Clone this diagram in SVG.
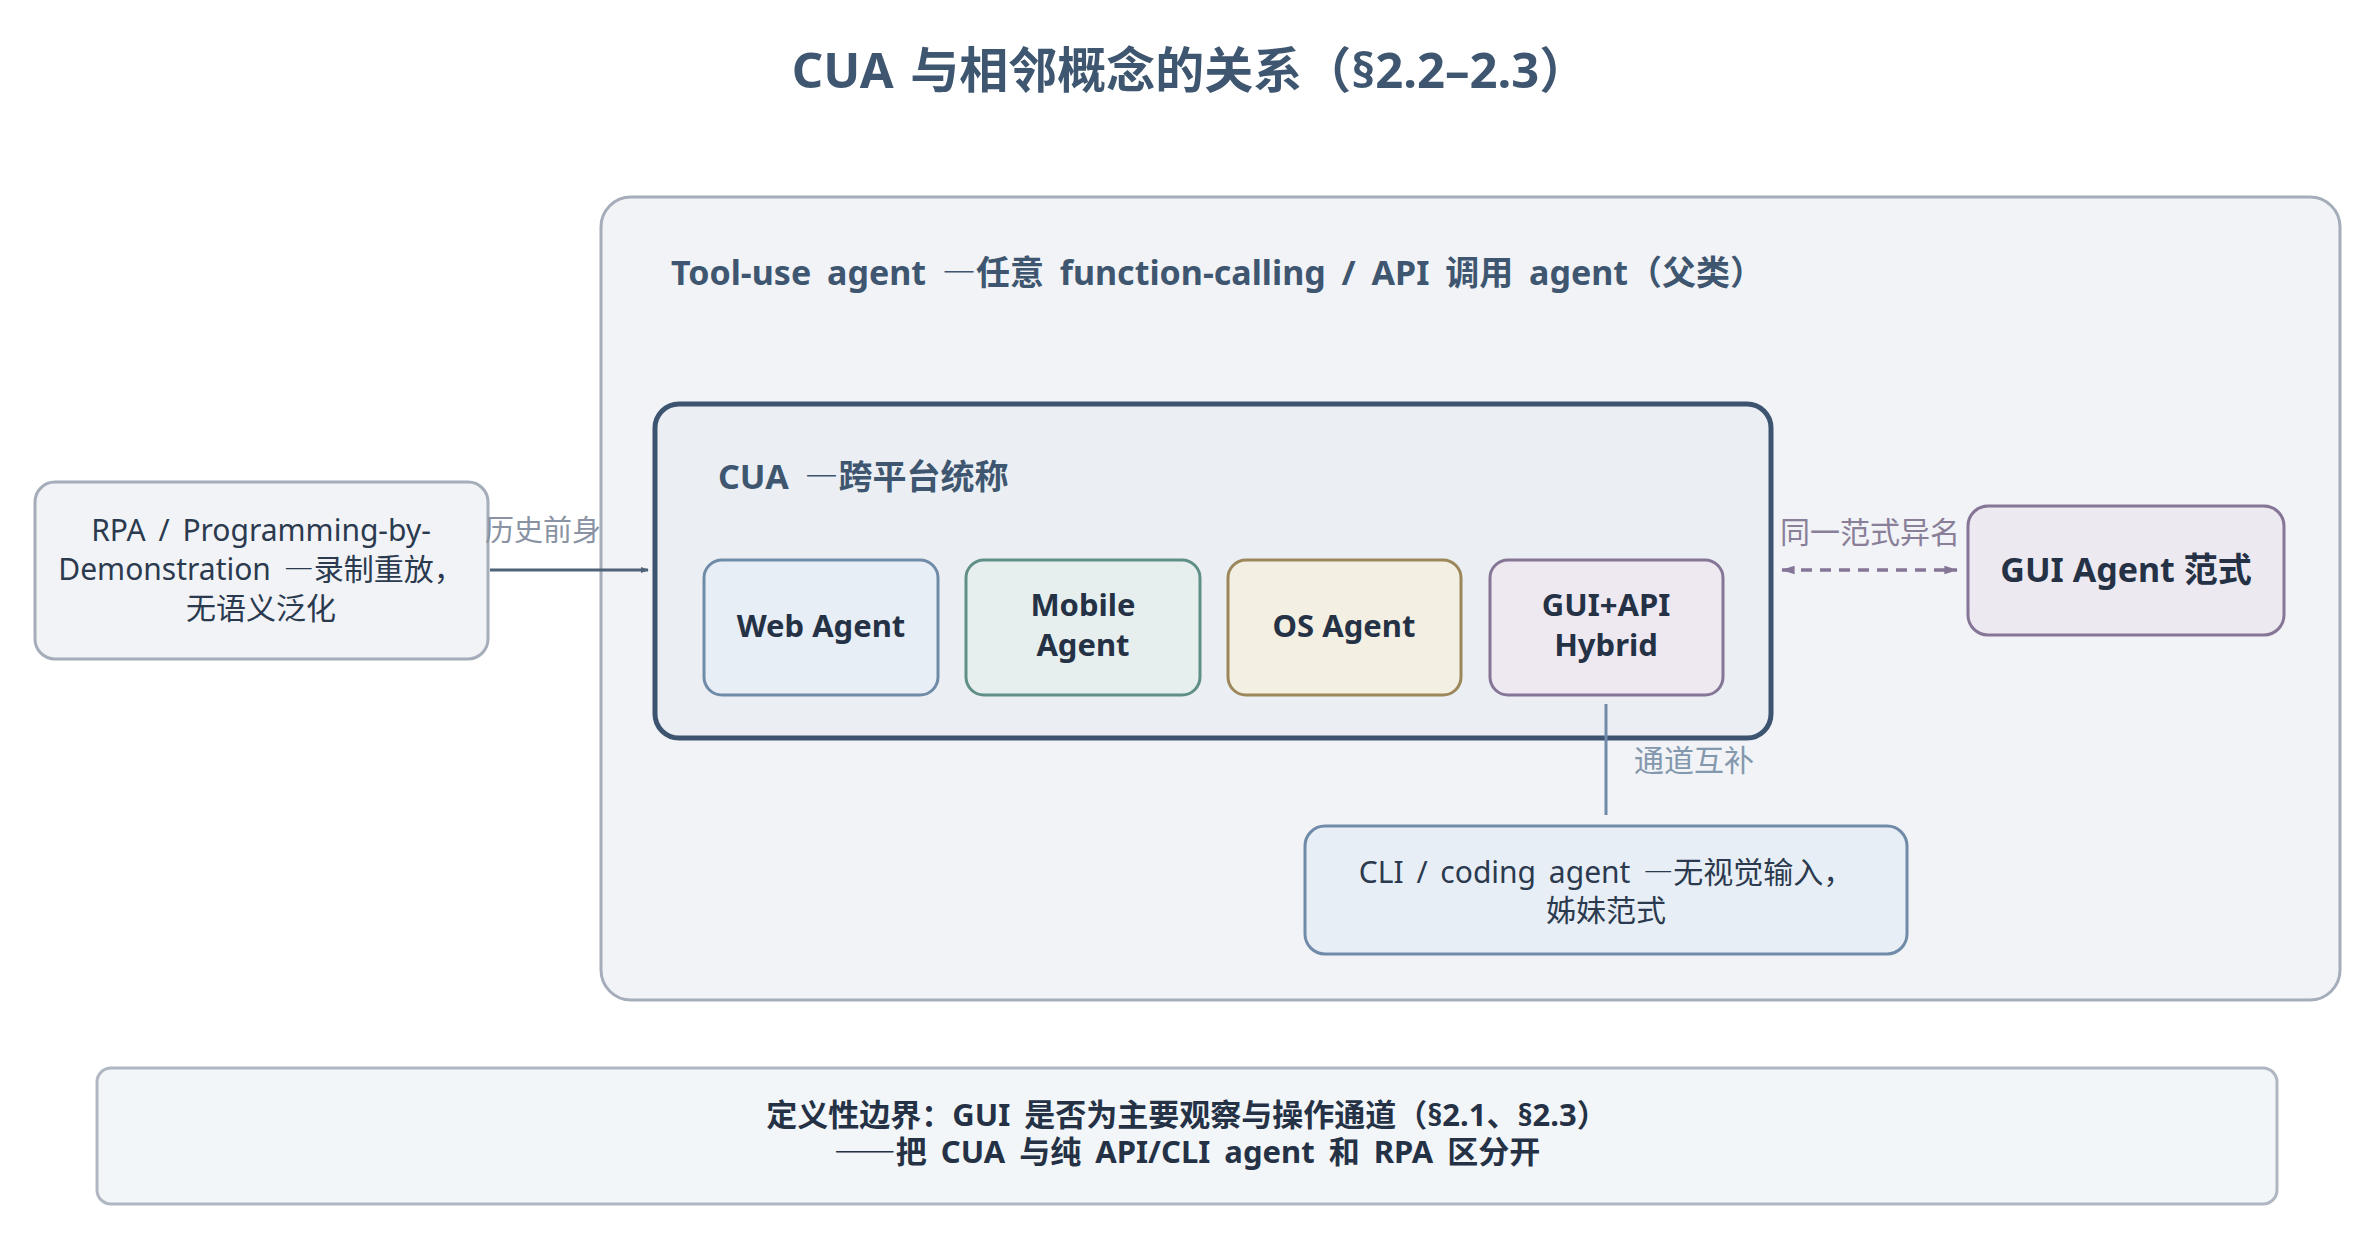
<svg xmlns="http://www.w3.org/2000/svg" width="2375" height="1239" viewBox="0 0 2375 1239">
<defs>
<style>
text{font-family:"Noto Sans","Noto Sans CJK SC",sans-serif;}
.cjk{font-family:"Noto Sans CJK SC",sans-serif;}
.dash{font-family:"Noto Sans CJK SC",sans-serif;font-feature-settings:"fwid" 1;}
.title{font-size:49px;font-weight:bold;fill:#3f5670;word-spacing:4px;}
.hdr{font-size:34px;font-weight:bold;fill:#3f5670;word-spacing:7px;}
.sub{font-size:31px;font-weight:bold;fill:#253246;text-anchor:middle;}
.body{font-size:30px;fill:#2b3a4e;text-anchor:middle;word-spacing:5px;}
.lbl{font-size:30px;}
.bot{font-size:31px;font-weight:bold;fill:#253246;text-anchor:middle;word-spacing:6px;}
</style>
<marker id="ah" viewBox="0 0 10 10" refX="9" refY="5" markerWidth="8" markerHeight="8" orient="auto-start-reverse" markerUnits="userSpaceOnUse"><path d="M0,1 L10,5 L0,9 Z" fill="#4f6278"/></marker>
<marker id="ahp" viewBox="0 0 10 10" refX="9" refY="5" markerWidth="14" markerHeight="14" orient="auto-start-reverse" markerUnits="userSpaceOnUse"><path d="M0,2 L10,5 L0,8 Z" fill="#857596"/></marker>
</defs>
<rect width="2375" height="1239" fill="#ffffff"/>
<text class="title" x="1190" y="88" text-anchor="middle">CUA 与相邻概念的关系（§2.2–2.3）</text>

<g id="tooluse">
<rect x="601" y="197" width="1739" height="803" rx="30" fill="#f1f3f7" stroke="#a6adba" stroke-width="3"/>
<text class="hdr" x="671" y="285">Tool-use agent <tspan class="dash">—</tspan>任意 function-calling / API 调用 agent（父类）</text>
</g>

<g id="cua">
<rect x="655" y="404" width="1116" height="334" rx="24" fill="#ebeff4" stroke="#3d5470" stroke-width="5"/>
<text class="hdr" x="718" y="489">CUA <tspan class="dash">—</tspan>跨平台统称</text>
</g>

<g id="web">
<rect x="704" y="560" width="234" height="135" rx="18" fill="#e8eef5" stroke="#6f8ba8" stroke-width="3"/>
<text class="sub" x="821" y="637">Web Agent</text>
</g>
<g id="mobile">
<rect x="966" y="560" width="234" height="135" rx="18" fill="#e6efee" stroke="#5f8f86" stroke-width="3"/>
<text class="sub" x="1083" y="616">Mobile</text>
<text class="sub" x="1083" y="656">Agent</text>
</g>
<g id="os">
<rect x="1228" y="560" width="233" height="135" rx="18" fill="#f3efe3" stroke="#9c875a" stroke-width="3"/>
<text class="sub" x="1344" y="637">OS Agent</text>
</g>
<g id="hybrid">
<rect x="1490" y="560" width="233" height="135" rx="18" fill="#eee9f0" stroke="#857596" stroke-width="3"/>
<text class="sub" x="1606" y="616">GUI+API</text>
<text class="sub" x="1606" y="656">Hybrid</text>
</g>

<g id="rpa">
<rect x="35" y="482" width="453" height="177" rx="20" fill="#f1f3f7" stroke="#a6adba" stroke-width="3"/>
<text class="body" x="261" y="541">RPA / Programming-by-</text>
<text class="body" x="261" y="580">Demonstration <tspan class="dash">—</tspan>录制重放，</text>
<text class="body" x="261" y="619">无语义泛化</text>
</g>

<g id="guiagent">
<rect x="1968" y="506" width="316" height="129" rx="20" fill="#ede9f0" stroke="#857596" stroke-width="3"/>
<text class="sub" x="2126" y="582" style="font-size:34px">GUI Agent 范式</text>
</g>

<g id="cli">
<rect x="1305" y="826" width="602" height="128" rx="20" fill="#e8eef5" stroke="#6f8ba8" stroke-width="3"/>
<text class="body" x="1606" y="883">CLI / coding agent <tspan class="dash">—</tspan>无视觉输入，</text>
<text class="body" x="1606" y="921">姊妹范式</text>
</g>

<g id="boundary">
<rect x="97" y="1068" width="2180" height="136" rx="14" fill="#f3f6f9" stroke="#b1b7c2" stroke-width="3"/>
<text class="bot" x="1187" y="1126">定义性边界：GUI 是否为主要观察与操作通道（§2.1、§2.3）</text>
<text class="bot" x="1187" y="1163"><tspan class="dash">——</tspan>把 CUA 与纯 API/CLI agent 和 RPA 区分开</text>
</g>

<g id="connectors">
<line x1="490" y1="570" x2="648" y2="570" stroke="#4f6278" stroke-width="3" marker-end="url(#ah)"/>
<text class="cjk" x="485" y="541" fill="#8a93a3" style="font-size:29px">历史前身</text>
<line x1="1782" y1="570" x2="1957" y2="570" stroke="#857596" stroke-width="3.5" stroke-dasharray="11,8" marker-start="url(#ahp)" marker-end="url(#ahp)"/>
<text class="lbl cjk" x="1780" y="543" fill="#8a7f98">同一范式异名</text>
<line x1="1606" y1="704" x2="1606" y2="815" stroke="#6f8ba8" stroke-width="3"/>
<text class="lbl cjk" x="1634" y="771" fill="#8397ad">通道互补</text>
</g>
</svg>
